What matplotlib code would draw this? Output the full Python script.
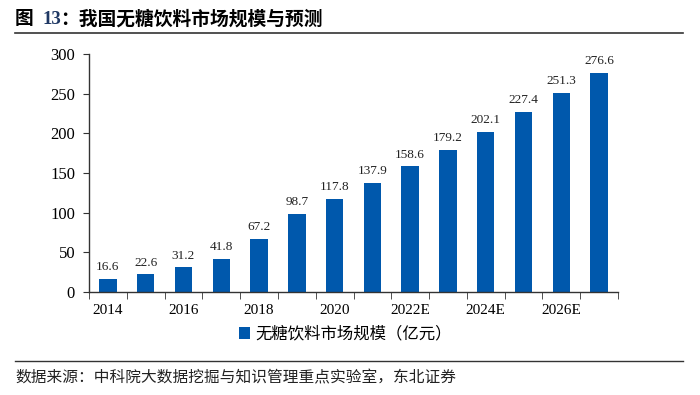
import matplotlib
matplotlib.use("Agg")
import matplotlib.pyplot as plt
from matplotlib.lines import Line2D
import numpy as np

categories = ["2014", "2015", "2016", "2017", "2018", "2019", "2020", "2021",
              "2022E", "2023E", "2024E", "2025E", "2026E", "2027E"]
values = [16.6, 22.6, 31.2, 41.8, 67.2, 98.7, 117.8, 137.9,
          158.6, 179.2, 202.1, 227.4, 251.3, 276.6]
yticks = [0, 50, 100, 150, 200, 250, 300]
series_name = "无糖饮料市场规模（亿元）"
title_prefix = "图 "
title_num = "13"
title_rest = "：我国无糖饮料市场规模与预测"
source = "数据来源：中科院大数据挖掘与知识管理重点实验室，东北证券"

SERIF = ["Liberation Serif", "Noto Sans CJK SC"]
CJK = ["Noto Sans CJK SC", "DejaVu Sans"]
plt.rcParams["font.family"] = SERIF

fig = plt.figure(figsize=(7, 3.95), dpi=100)
ax = fig.add_axes([89/700, 1-292/395, (618-89)/700, (292-54)/395])

x = np.arange(len(categories))
bar_color = "#0058AC"
ax.bar(x, values, width=0.46, color=bar_color, label=series_name, zorder=2)
for xi, v in zip(x, values):
    ax.text(xi, v + 7, f"{v:.1f}", ha="center", va="bottom", fontsize=9.5,
            family=SERIF, color="#222222")

ax.set_xlim(-0.5, len(categories) - 0.5)
ax.set_ylim(0, 300)
ax.set_yticks(yticks)
ax.set_yticklabels([str(t) for t in yticks], fontsize=12, family=SERIF)
ax.set_xticks(x[::2])
ax.set_xticklabels(categories[::2], fontsize=11, family=SERIF)
ax.set_xticks(np.arange(-0.5, len(categories), 1.0), minor=True)
ax.tick_params(axis="x", which="major", length=0, pad=9)
ax.tick_params(axis="x", which="minor", length=5, direction="out", color="#333333")
ax.tick_params(axis="y", which="major", length=4, direction="out", color="#333333", pad=6)
for s in ["top", "right"]:
    ax.spines[s].set_visible(False)
for s in ["left", "bottom"]:
    ax.spines[s].set_color("#333333")
    ax.spines[s].set_linewidth(1.0)

# legend
leg = fig.legend(loc="center", bbox_to_anchor=(345/700, 1-334/395), frameon=False,
                 prop={"family": CJK, "size": 11.8}, handlelength=0.7, handleheight=0.7,
                 handletextpad=0.3)

# title
fig.text(15/700, 1-19/395, title_prefix, fontsize=13.5, fontweight="bold", family=CJK,
         va="center", ha="left")
fig.text(43/700, 1-19/395, title_num, fontsize=13.5, fontweight="bold", family=SERIF,
         va="center", ha="left", color="#1F3864")
fig.text(60/700, 1-19/395, title_rest, fontsize=13.5, fontweight="bold", family=CJK,
         va="center", ha="left")
fig.add_artist(Line2D([15/700, 683/700], [1-33/395, 1-33/395], color="#333333", lw=1.2))
fig.add_artist(Line2D([15/700, 683/700], [1-361/395, 1-361/395], color="#333333", lw=1.0))
fig.text(15/700, 1-378/395, source, fontsize=11.3, family=CJK, va="center", ha="left",
         color="#222222")

fig.savefig("out.png", dpi=100)
